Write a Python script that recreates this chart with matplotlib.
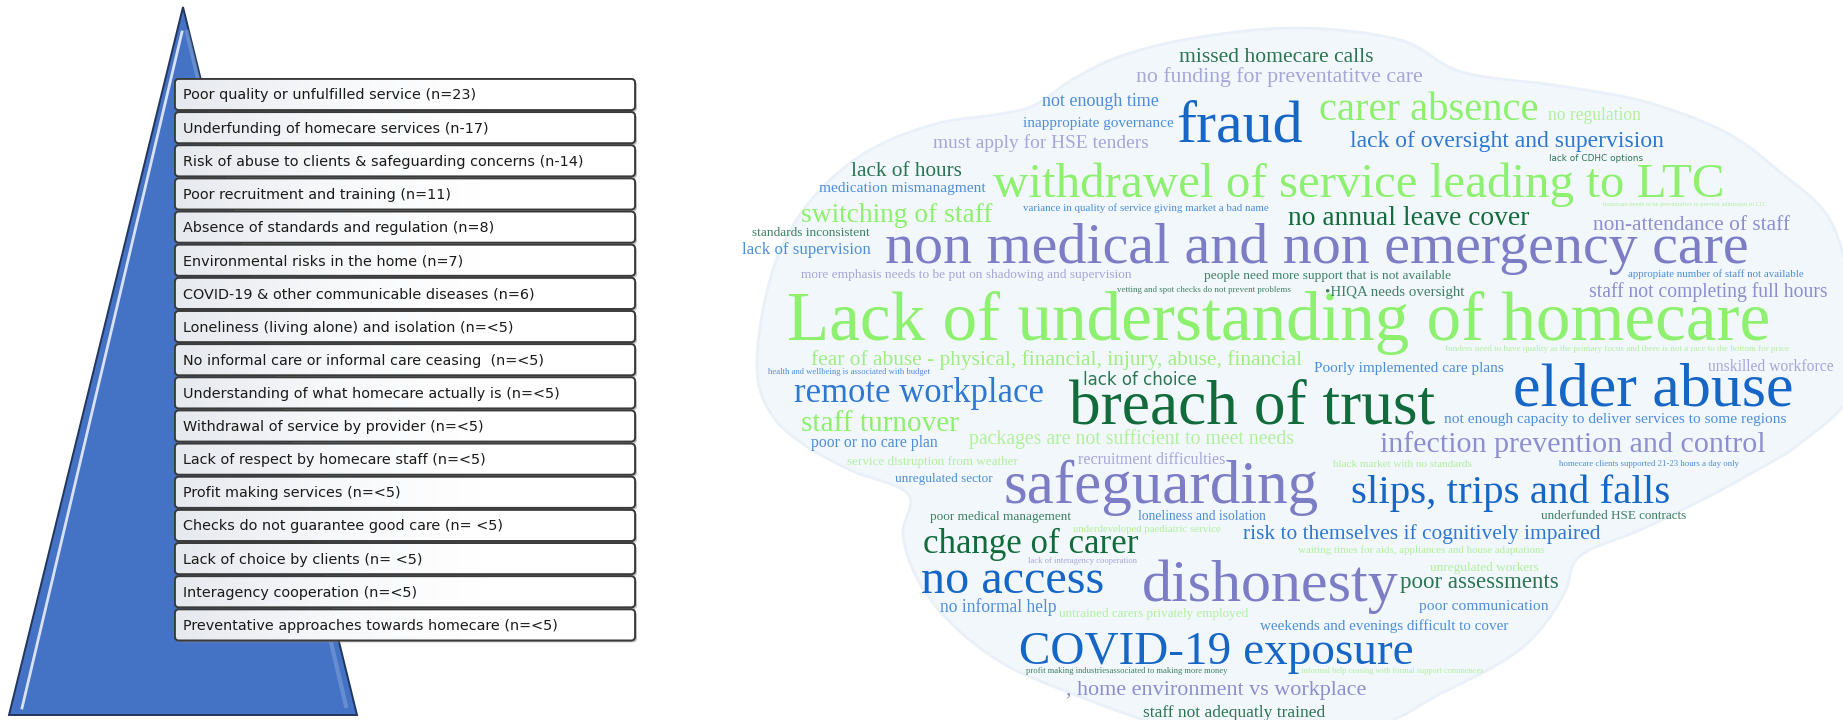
import numpy as np
import matplotlib
matplotlib.use("Agg")
import matplotlib.pyplot as plt
from matplotlib.patches import Polygon, FancyBboxPatch
from matplotlib.colors import LinearSegmentedColormap

# left panel: themes, ranked
theme_labels = [
    "Poor quality or unfulfilled service (n=23)",
    "Underfunding of homecare services (n-17)",
    "Risk of abuse to clients & safeguarding concerns (n-14)",
    "Poor recruitment and training (n=11)",
    "Absence of standards and regulation (n=8)",
    "Environmental risks in the home (n=7)",
    "COVID-19 & other communicable diseases (n=6)",
    "Loneliness (living alone) and isolation (n=<5)",
    "No informal care or informal care ceasing  (n=<5)",
    "Understanding of what homecare actually is (n=<5)",
    "Withdrawal of service by provider (n=<5)",
    "Lack of respect by homecare staff (n=<5)",
    "Profit making services (n=<5)",
    "Checks do not guarantee good care (n= <5)",
    "Lack of choice by clients (n= <5)",
    "Interagency cooperation (n=<5)",
    "Preventative approaches towards homecare (n=<5)",
]

# right panel: word cloud phrases
phrases = [
    "Lack of understanding of homecare",
    "non medical and non emergency care",
    "withdrawel of service leading to LTC",
    "breach of trust",
    "elder abuse",
    "safeguarding",
    "dishonesty",
    "COVID-19 exposure",
    "fraud",
    "carer absence",
    "slips, trips and falls",
    "no access",
    "infection prevention and control",
    "remote workplace",
    "change of carer",
    "lack of oversight and supervision",
    "switching of staff",
    "fear of abuse - physical, financial, injury, abuse, financial",
    "staff turnover",
    "no annual leave cover",
    "non-attendance of staff",
    "staff not completing full hours",
    "missed homecare calls",
    "no funding for preventatitve care",
    "not enough time",
    "inappropiate governance",
    "must apply for HSE tenders",
    "no regulation",
    "lack of CDHC options",
    "lack of hours",
    "medication mismanagment",
    "variance in quality of service giving market a bad name",
    "homecare needs to be preventative to prevent admission to LTC",
    "standards inconsistent",
    "lack of supervision",
    "more emphasis needs to be put on shadowing and supervision",
    "people need more support that is not available",
    "vetting and spot checks do not prevent problems",
    "\u2022HIQA needs oversight",
    "appropiate number of staff not available",
    "health and wellbeing is associated with budget",
    "funders need to have quality as the primary focus and there is not a race to the bottom for price",
    "Poorly implemented care plans",
    "unskilled workforce",
    "lack of choice",
    "not enough capacity to deliver services to some regions",
    "packages are not sufficient to meet needs",
    "poor or no care plan",
    "recruitment difficulties",
    "service distruption from weather",
    "black market with no standards",
    "homecare clients supported 21-23 hours a day only",
    "unregulated sector",
    "poor medical management",
    "loneliness and isolation",
    "underfunded HSE contracts",
    "underdeveloped paediatric service",
    "risk to themselves if cognitively impaired",
    "waiting times for aids, appliances and house adaptations",
    "lack of interagency cooperation",
    "unregulated workers",
    "poor assessments",
    "no informal help",
    "untrained carers privately employed",
    "poor communication",
    "weekends and evenings difficult to cover",
    "profit making industriesassociated to making more money",
    "; informal help ceasing with formal support commences",
    ", home environment vs workplace",
    "staff not adequatly trained",
]

# colours of the cloud
COL = {
    "LG": "#8DF06E", "LG2": "#9EEE84", "LG3": "#B2F09E",
    "PU": "#7D7DC6", "PU2": "#8E8ECF", "PU3": "#A6A6D9",
    "BL": "#1666C5", "BL2": "#2F78CF", "BL3": "#4D8ED8",
    "DG": "#126B3B", "DG2": "#2B7551", "DG3": "#3F8062",
}

# where each phrase sits in the picture (left px, right px, baseline px, colour, font)
SERIF = ["Liberation Serif", "DejaVu Serif"]
SANS = ["DejaVu Sans"]
phrase_layout = [
    (787, 1771, 340, "LG", SERIF),
    (885, 1750, 263, "PU", SERIF),
    (993, 1726, 197, "LG", SERIF),
    (1069, 1435, 423, "DG", SERIF),
    (1513, 1793, 405, "BL", SERIF),
    (1004, 1319, 503, "PU", SERIF),
    (1142, 1399, 601, "PU", SERIF),
    (1019, 1413, 664, "BL", SERIF),
    (1176, 1303, 142, "BL", SERIF),
    (1319, 1539, 120, "LG", SERIF),
    (1351, 1670, 503, "BL", SERIF),
    (921, 1104, 593, "BL", SERIF),
    (1380, 1767, 452, "PU2", SERIF),
    (794, 1042, 402, "BL2", SERIF),
    (923, 1138, 553, "DG", SERIF),
    (1350, 1664, 147, "BL2", SERIF),
    (801, 993, 222, "LG", SERIF),
    (811, 1302, 365, "LG2", SERIF),
    (801, 959, 431, "LG", SERIF),
    (1288, 1529, 225, "DG", SERIF),
    (1593, 1790, 230, "PU2", SERIF),
    (1589, 1828, 297, "PU2", SERIF),
    (1179, 1374, 62, "DG2", SERIF),
    (1136, 1423, 82, "PU3", SERIF),
    (1042, 1159, 106, "BL3", SERIF),
    (1023, 1173, 127, "BL3", SERIF),
    (933, 1148, 148, "PU3", SERIF),
    (1548, 1641, 120, "LG3", SERIF),
    (1549, 1643, 161, "DG2", SANS),
    (851, 962, 176, "DG2", SERIF),
    (819, 986, 192, "BL3", SERIF),
    (1023, 1267, 211, "BL3", SERIF),
    (1603, 1765, 206, "LG3", SERIF),
    (752, 870, 236, "DG3", SERIF),
    (742, 870, 254, "BL3", SERIF),
    (801, 1132, 278, "PU3", SERIF),
    (1204, 1451, 279, "DG3", SERIF),
    (1117, 1288, 292, "DG3", SERIF),
    (1325, 1465, 296, "DG3", SERIF),
    (1628, 1803, 277, "BL3", SERIF),
    (768, 930, 374, "BL3", SERIF),
    (1445, 1785, 351, "LG3", SERIF),
    (1314, 1504, 372, "BL3", SERIF),
    (1708, 1833, 371, "PU3", SERIF),
    (1083, 1197, 385, "DG2", SANS),
    (1444, 1785, 423, "BL3", SERIF),
    (969, 1293, 444, "LG3", SERIF),
    (811, 938, 447, "BL3", SERIF),
    (1078, 1226, 464, "PU3", SERIF),
    (847, 1018, 465, "LG3", SERIF),
    (1333, 1473, 467, "LG3", SERIF),
    (1559, 1739, 466, "BL3", SERIF),
    (895, 992, 482, "BL3", SERIF),
    (930, 1071, 520, "DG3", SERIF),
    (1138, 1265, 520, "BL3", SERIF),
    (1541, 1687, 519, "DG3", SERIF),
    (1073, 1220, 532, "LG3", SERIF),
    (1243, 1598, 539, "BL2", SERIF),
    (1298, 1544, 553, "LG3", SERIF),
    (1028, 1136, 563, "PU3", SERIF),
    (1430, 1539, 571, "LG3", SERIF),
    (1400, 1558, 588, "DG2", SERIF),
    (940, 1057, 612, "BL3", SERIF),
    (1059, 1248, 617, "LG3", SERIF),
    (1419, 1547, 610, "BL3", SERIF),
    (1260, 1508, 630, "BL3", SERIF),
    (1026, 1228, 673, "DG3", SERIF),
    (1297, 1481, 673, "LG3", SERIF),
    (1066, 1366, 695, "PU2", SERIF),
    (1143, 1326, 717, "DG2", SERIF),
]

# cloud outline (pixels)
cloud_outline = [
    (757, 370), (765, 300), (785, 240), (820, 190), (870, 150), (935, 124),
    (1000, 114), (1035, 105), (1075, 78), (1124, 55), (1200, 37), (1300, 28),
    (1400, 40), (1462, 72), (1560, 86), (1646, 102), (1725, 132), (1780, 172),
    (1830, 220), (1852, 300), (1852, 390), (1802, 442), (1750, 474),
    (1698, 502), (1640, 530), (1580, 556), (1565, 592), (1540, 630),
    (1505, 660), (1440, 694), (1370, 728), (1250, 740), (1159, 724),
    (1073, 694), (1004, 664), (952, 624), (918, 580), (903, 535), (908, 494),
    (850, 470), (800, 442), (770, 412),
]


def smooth_closed(pts, n=14):
    p = np.asarray(pts, float)
    m = len(p)
    t = np.linspace(0, 1, n, endpoint=False)[:, None]
    out = []
    for i in range(m):
        p0, p1, p2, p3 = p[i - 1], p[i], p[(i + 1) % m], p[(i + 2) % m]
        out.append(0.5 * (2 * p1 + (-p0 + p2) * t
                          + (2 * p0 - 5 * p1 + 4 * p2 - p3) * t ** 2
                          + (-p0 + 3 * p1 - 3 * p2 + p3) * t ** 3))
    return np.vstack(out)


fig = plt.figure(figsize=(18.43, 7.2), dpi=100)
ax = fig.add_axes([0, 0, 1, 1])
renderer = fig.canvas.get_renderer()


def fit_width(t, width):
    # scale the font so the text spans the given width in pixels
    w = t.get_window_extent(renderer).width
    t.set_fontsize(t.get_fontsize() * width / w)


# ---- pyramid ----
apex, base_l, base_r = (183, 7), (9, 715), (357, 715)
ax.add_patch(Polygon([apex, base_l, base_r], closed=True, fc="#4472C4",
                     ec="#22365E", lw=1.4, zorder=1))
# bevel highlights
ax.plot([182, 22], [32, 708], color="white", lw=2.0, alpha=0.8, zorder=2)
ax.plot([187, 346], [32, 706], color="#A9C1EA", lw=3, alpha=0.35, zorder=2)

box_left, box_right = 175, 635
box_top, box_h, box_pitch = 79, 31, 33.15
grad = LinearSegmentedColormap.from_list(
    "g", ["#E6E9EE", "#F7F8FA", "#FFFFFF", "#FFFFFF"])
gimg = np.linspace(0, 1, 256)[None, :]

label_size = None
for i, label in enumerate(theme_labels):
    top = box_top + i * box_pitch
    shadow = FancyBboxPatch((box_left + 2, top + 2), box_right - box_left, box_h,
                            boxstyle="round,pad=0,rounding_size=4",
                            fc="#8C8C8C", ec="none", alpha=0.55, zorder=3)
    ax.add_patch(shadow)
    box = FancyBboxPatch((box_left, top), box_right - box_left, box_h,
                         boxstyle="round,pad=0,rounding_size=4",
                         fc="white", ec="#3A3A3A", lw=1.3, zorder=4)
    ax.add_patch(box)
    im = ax.imshow(gimg, cmap=grad, aspect="auto", zorder=4.5,
                   extent=(box_left, box_right, top + box_h, top))
    im.set_clip_path(box)
    edge = FancyBboxPatch((box_left, top), box_right - box_left, box_h,
                          boxstyle="round,pad=0,rounding_size=4",
                          fc="none", ec="#3A3A3A", lw=1.3, zorder=5)
    ax.add_patch(edge)
    t = ax.text(183, top + box_h / 2 + 1, label, family="DejaVu Sans",
                fontsize=9, color="#1A1A1A", va="center", ha="left", zorder=6)
    if label_size is None:
        fit_width(t, 292)
        label_size = t.get_fontsize()
    else:
        t.set_fontsize(label_size)

# ---- word cloud ----
shape = smooth_closed(cloud_outline)
ax.add_patch(Polygon(shape, closed=True, fc="#F2F7FC", ec="#E9F0F8",
                     lw=2, zorder=0.5))

for phrase, (x0, x1, base, ck, fam) in zip(phrases, phrase_layout):
    t = ax.text(x0, base, phrase, family=fam, fontsize=10, color=COL[ck],
                ha="left", va="baseline", zorder=2)
    fit_width(t, x1 - x0)

ax.set_xlim(0, 1843)
ax.set_ylim(720, 0)
ax.axis("off")

fig.savefig("out.png", dpi=100, facecolor="white")
